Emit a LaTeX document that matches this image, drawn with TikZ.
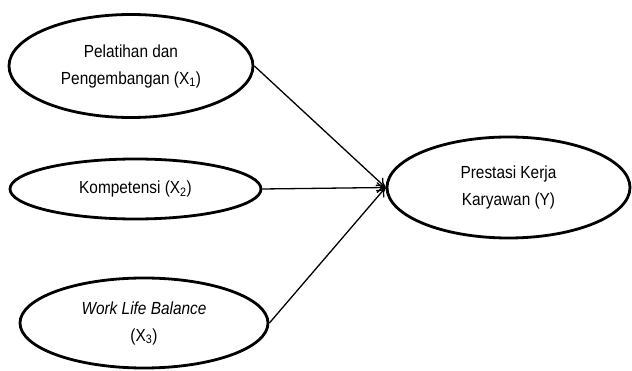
\documentclass[tikz,border=0pt]{standalone}
\usepackage{fontspec}
\setmainfont{Liberation Sans}[FakeStretch=0.88]
\usetikzlibrary{shapes.geometric, arrows.meta}

\begin{document}
\begin{tikzpicture}[
    x=1pt, y=-1pt,
    font=\fontsize{17.5}{27}\selectfont,
    var/.style={ellipse, draw, line width=2.8pt, inner sep=0pt,
                align=center},
    pan/.style={line width=1.3pt, -{To[length=9pt, width=11pt, line width=1.3pt]}},
  ]

  \useasboundingbox (0,0) rectangle (632,371);

  % --- variabel bebas ---
  \node[var, minimum width=244pt, minimum height=103pt] (x1) at (131,66)
       {Pelatihan dan\\Pengembangan (X\textsubscript{1})};
  \node[var, minimum width=251pt, minimum height=60pt] (x2) at (135.5,189)
       {Kompetensi (X\textsubscript{2})};
  \node[var, minimum width=248pt, minimum height=90pt] (x3) at (144,323)
       {\emph{Work Life Balance}\\(X\textsubscript{3})};

  % --- variabel terikat ---
  \node[var, minimum width=243pt, minimum height=101pt] (y) at (508.5,187.5)
       {Prestasi Kerja\\Karyawan (Y)};

  % --- panah ---
  \draw[pan] (x1.east) -- (y.west);
  \draw[pan] (x2.east) -- (y.west);
  \draw[pan] (x3.east) -- (y.west);

\end{tikzpicture}
\end{document}
